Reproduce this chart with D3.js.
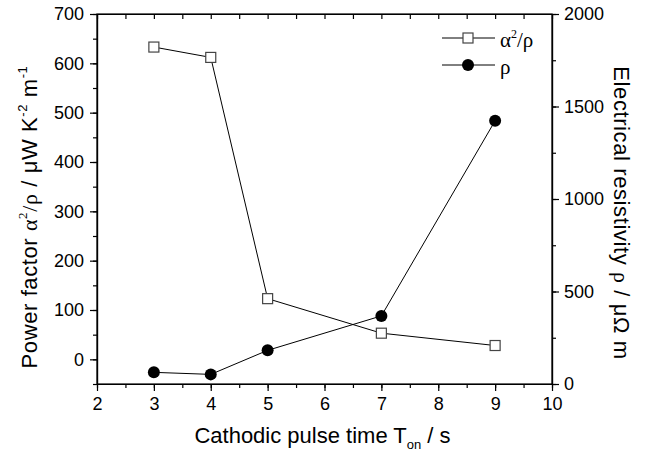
<!DOCTYPE html>
<html lang="en">
<head>
<meta charset="utf-8">
<title>Power factor and resistivity vs pulse time</title>
<script src="https://d3js.org/d3.v7.min.js"></script>
<style>
    body { margin: 0; background: #fff; }
    svg text { font-family: "Liberation Sans", Arial, sans-serif; fill: #000; }
    .greek { font-family: "Liberation Serif", "Times New Roman", serif; }
    .axis path, .axis line { stroke: #000; stroke-width: 1.2; }
</style>
</head>
<body>
<div id="chart"></div>
<script>
    // data
    var pulseTime = [3, 4, 5, 7, 9];
    var powerFactor = [633, 612, 123, 53, 28];        // alpha^2/rho, left axis
    var resistivity = [63, 52, 182, 368, 1423];       // rho, right axis
    var xTicks = [2, 3, 4, 5, 6, 7, 8, 9, 10];
    var leftTicks = [0, 100, 200, 300, 400, 500, 600, 700];
    var rightTicks = [0, 500, 1000, 1500, 2000];

    var width = 646, height = 454;
    var plotLeft = 97, plotRight = 552, plotTop = 14, plotBottom = 384;

    var svg = d3.select("#chart").append("svg")
        .attr("width", width)
        .attr("height", height);

    var x = d3.scaleLinear().domain([2, 10]).range([plotLeft, plotRight]);
    var yL = d3.scaleLinear().domain([-50, 700]).range([plotBottom, plotTop]);
    var yR = d3.scaleLinear().domain([0, 2000]).range([plotBottom, plotTop]);

    var xMinor = d3.range(2, 10.01, 0.5);
    var leftMinor = d3.range(-50, 700.01, 50);
    var rightMinor = d3.range(0, 2000.01, 250);

    // minor ticks first, then majors with labels
    function minor(axis, vals) {
        return axis.tickValues(vals).tickSize(4).tickFormat("").tickSizeOuter(0);
    }

    svg.append("g").attr("class", "axis")
        .attr("transform", "translate(0," + plotBottom + ")")
        .call(minor(d3.axisBottom(x), xMinor));
    svg.append("g").attr("class", "axis")
        .attr("transform", "translate(0," + plotBottom + ")")
        .call(d3.axisBottom(x).tickValues(xTicks).tickSize(7).tickSizeOuter(0).tickPadding(6))
        .selectAll("text").style("font-size", "18px");

    svg.append("g").attr("class", "axis")
        .attr("transform", "translate(0," + plotTop + ")")
        .call(d3.axisBottom(x).tickValues(xMinor).tickSize(5).tickFormat("").tickSizeOuter(0));

    svg.append("g").attr("class", "axis")
        .attr("transform", "translate(" + plotLeft + ",0)")
        .call(minor(d3.axisLeft(yL), leftMinor));
    svg.append("g").attr("class", "axis")
        .attr("transform", "translate(" + plotLeft + ",0)")
        .call(d3.axisLeft(yL).tickValues(leftTicks).tickSize(7).tickSizeOuter(0).tickPadding(6))
        .selectAll("text").style("font-size", "18px");

    svg.append("g").attr("class", "axis")
        .attr("transform", "translate(" + plotRight + ",0)")
        .call(minor(d3.axisRight(yR), rightMinor));
    svg.append("g").attr("class", "axis")
        .attr("transform", "translate(" + plotRight + ",0)")
        .call(d3.axisRight(yR).tickValues(rightTicks).tickFormat(d3.format("d"))
            .tickSize(7).tickSizeOuter(0).tickPadding(5))
        .selectAll("text").style("font-size", "18px");

    // frame
    svg.append("rect")
        .attr("x", plotLeft).attr("y", plotTop)
        .attr("width", plotRight - plotLeft).attr("height", plotBottom - plotTop)
        .attr("fill", "none").attr("stroke", "#000").attr("stroke-width", 1.2);

    var pf = pulseTime.map(function(t, i) { return [t, powerFactor[i]]; });
    var rho = pulseTime.map(function(t, i) { return [t, resistivity[i]]; });

    svg.append("path")
        .datum(pf)
        .attr("fill", "none").attr("stroke", "#000").attr("stroke-width", 1)
        .attr("d", d3.line().x(function(d) { return x(d[0]); }).y(function(d) { return yL(d[1]); }));
    svg.append("path")
        .datum(rho)
        .attr("fill", "none").attr("stroke", "#000").attr("stroke-width", 1)
        .attr("d", d3.line().x(function(d) { return x(d[0]); }).y(function(d) { return yR(d[1]); }));

    svg.selectAll("rect.sq").data(pf).enter().append("rect")
        .attr("class", "sq")
        .attr("x", function(d) { return x(d[0]) - 5; })
        .attr("y", function(d) { return yL(d[1]) - 5; })
        .attr("width", 10).attr("height", 10)
        .attr("fill", "#fff").attr("stroke", "#444").attr("stroke-width", 1.2);

    svg.selectAll("circle.dot").data(rho).enter().append("circle")
        .attr("class", "dot")
        .attr("cx", function(d) { return x(d[0]); })
        .attr("cy", function(d) { return yR(d[1]); })
        .attr("r", 6)
        .attr("fill", "#000");

    // legend
    var lg = svg.append("g").attr("transform", "translate(442,38)");
    lg.append("line").attr("x1", 0).attr("x2", 53).attr("y1", 0).attr("y2", 0).attr("stroke", "#000");
    lg.append("rect").attr("x", 21).attr("y", -5).attr("width", 10).attr("height", 10)
        .attr("fill", "#fff").attr("stroke", "#444").attr("stroke-width", 1.2);
    var t1 = lg.append("text").attr("x", 58).attr("y", 9).style("font-size", "21px").attr("class", "greek");
    t1.append("tspan").text("α");
    t1.append("tspan").attr("dy", -9).style("font-size", "12px").text("2");
    t1.append("tspan").attr("dy", 9).text("/ρ");

    lg.append("line").attr("x1", 0).attr("x2", 53).attr("y1", 27).attr("y2", 27).attr("stroke", "#000");
    lg.append("circle").attr("cx", 26).attr("cy", 27).attr("r", 6).attr("fill", "#000");
    lg.append("text").attr("class", "greek").attr("x", 58).attr("y", 36).style("font-size", "21px").text("ρ");

    // axis titles
    var xt = svg.append("text")
        .attr("x", (plotLeft + plotRight) / 2 - 2).attr("y", 443)
        .attr("text-anchor", "middle").style("font-size", "22px");
    xt.append("tspan").text("Cathodic pulse time T");
    xt.append("tspan").attr("dy", 6).style("font-size", "13px").text("on");
    xt.append("tspan").attr("dy", -6).text(" / s");

    var yt = svg.append("text")
        .attr("transform", "translate(37,217) rotate(-90)")
        .attr("text-anchor", "middle").style("font-size", "22px")
        .style("letter-spacing", "0.6px");
    yt.append("tspan").text("Power factor ");
    yt.append("tspan").attr("class", "greek").text("α");
    yt.append("tspan").attr("class", "greek").attr("dy", -10).style("font-size", "13px").text("2");
    yt.append("tspan").attr("class", "greek").attr("dy", 10).text("/ρ");
    yt.append("tspan").text(" / μW K");
    yt.append("tspan").attr("dy", -10).style("font-size", "13px").text("-2");
    yt.append("tspan").attr("dy", 10).text(" m");
    yt.append("tspan").attr("dy", -10).style("font-size", "13px").text("-1");

    var rt = svg.append("text")
        .attr("transform", "translate(614,213) rotate(90)")
        .attr("text-anchor", "middle").style("font-size", "22px")
        .style("letter-spacing", "0.6px");
    rt.append("tspan").text("Electrical resistivity ");
    rt.append("tspan").attr("class", "greek").text("ρ");
    rt.append("tspan").text(" / μΩ m");
</script>
</body>
</html>
